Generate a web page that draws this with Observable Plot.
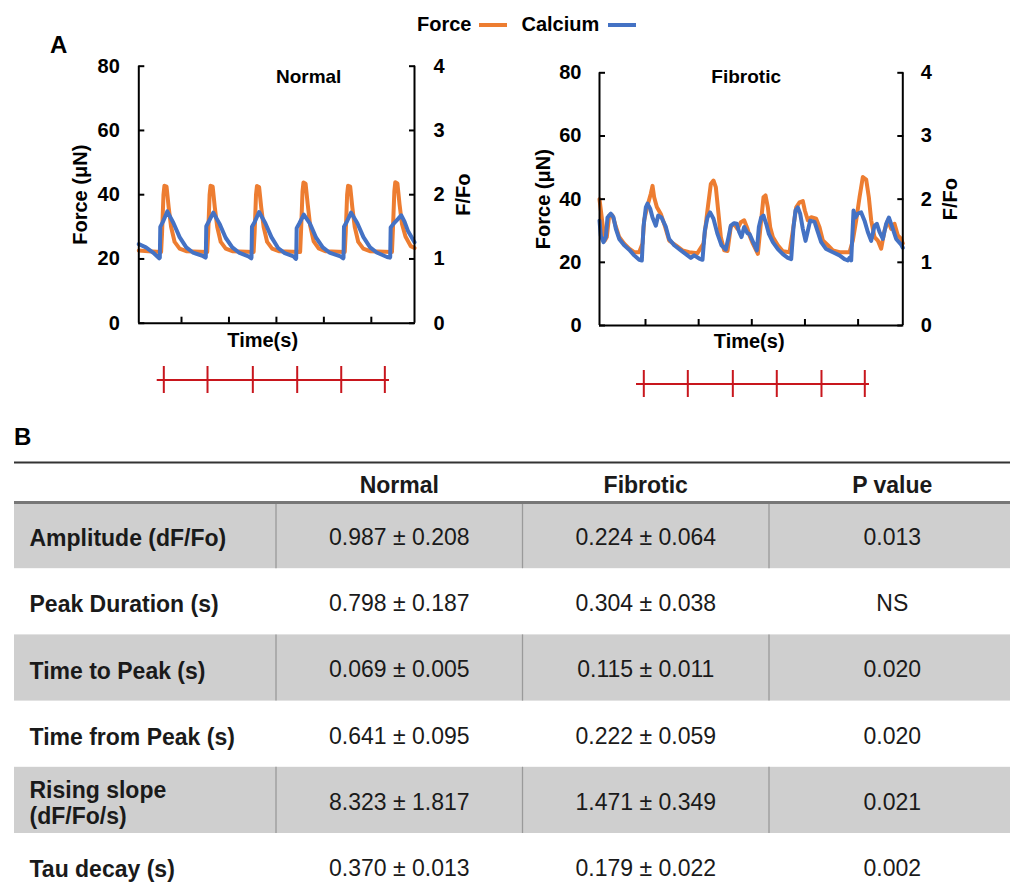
<!DOCTYPE html>
<html><head><meta charset="utf-8">
<script src="https://cdn.jsdelivr.net/npm/d3@7"></script>
<script src="https://cdn.jsdelivr.net/npm/@observablehq/plot@0.6"></script>
<style>
body{margin:0;background:#fff;font-family:"Liberation Sans",Arial,sans-serif;}
#root{position:relative;width:1010px;height:892px;overflow:hidden;background:#fff;}
.abs{position:absolute;}
.lbl{position:absolute;font-weight:bold;line-height:1;color:#000;white-space:nowrap;}
.sw{position:absolute;height:4px;width:28px;}
</style></head><body><div id="root"></div>
<script>
const FONT = '"Liberation Sans", Arial, sans-serif';
const ORANGE = "#ED7D31", BLUE = "#4472C4", RED = "#C8161D";

// ---- Panel A axes ----
const forceTicks = [0, 20, 40, 60, 80];
const ffoTicks = [0, 1, 2, 3, 4];
const timeTicks = [1, 2, 3, 4, 5];
const normalDomain = [0.1, 5.91];
const fibroticDomain = [0.1345, 5.841];

// ---- Normal traces: [time, force µN] and [time, F/Fo] ----
const normalForce = [
 [0.10,22.6],[0.30,22.4],[0.57,22.2],
 [0.59,28],[0.62,40],[0.64,42.8],[0.685,42.5],[0.73,36],[0.78,30],[0.855,25.3],[0.96,23.2],[1.10,22.4],
 [1.542,22.2],[1.562,28],[1.592,40],[1.612,42.8],[1.657,42.5],[1.702,36],[1.752,30],[1.827,25.3],[1.932,23.2],[2.072,22.4],
 [2.52,22.2],[2.54,28],[2.57,40],[2.59,42.7],[2.635,42.4],[2.68,36],[2.73,30],[2.805,25.3],[2.91,23.2],[3.05,22.4],
 [3.50,22.2],[3.52,29],[3.55,41],[3.57,43.8],[3.615,43.4],[3.66,37],[3.71,30.5],[3.785,25.5],[3.89,23.3],[4.03,22.4],
 [4.44,22.2],[4.46,28],[4.49,40],[4.51,42.8],[4.555,42.5],[4.60,36],[4.65,30],[4.725,25.3],[4.83,23.2],[4.97,22.4],
 [5.435,22.2],[5.455,29],[5.485,41],[5.505,43.9],[5.55,43.5],[5.595,37],[5.645,31],[5.72,27],[5.83,24],[5.91,23.4]
];
const normalCalcium = [
 [0.10,1.23],[0.25,1.18],[0.40,1.10],[0.53,1.01],
 [0.543,1.02],[0.553,1.50],[0.61,1.58],[0.70,1.74],[0.83,1.56],[0.96,1.34],[1.10,1.18],[1.24,1.10],[1.44,1.05],[1.505,1.02],
 [1.512,1.03],[1.522,1.51],[1.58,1.59],[1.67,1.72],[1.80,1.55],[1.93,1.33],[2.07,1.18],[2.21,1.10],[2.41,1.04],[2.47,1.01],
 [2.475,1.02],[2.485,1.50],[2.545,1.58],[2.635,1.73],[2.765,1.56],[2.895,1.34],[3.035,1.17],[3.175,1.09],[3.36,1.04],[3.41,1.00],
 [3.417,1.01],[3.427,1.48],[3.487,1.56],[3.577,1.69],[3.707,1.55],[3.837,1.33],[3.977,1.18],[4.117,1.10],[4.35,1.04],[4.407,1.01],
 [4.414,1.02],[4.424,1.50],[4.484,1.58],[4.574,1.72],[4.704,1.56],[4.834,1.34],[4.974,1.18],[5.114,1.10],[5.33,1.03],[5.39,1.02],
 [5.398,1.03],[5.408,1.49],[5.47,1.55],[5.56,1.62],[5.63,1.68],[5.70,1.58],[5.77,1.44],[5.91,1.26]
];

// ---- Fibrotic traces ----
const fibroticForce = [
 [0.1345,40],[0.191,32.2],[0.235,26.9],[0.272,28],[0.316,34.8],[0.379,34.8],[0.442,31.3],[0.505,28],[0.599,25.9],[0.693,24.3],
 [0.787,23.2],[0.881,23.2],[0.944,26],[0.975,33.3],[1.038,38],[1.100,41.7],[1.132,44.2],[1.163,40.6],[1.213,37.5],[1.288,35.3],
 [1.351,32.2],[1.445,26.9],[1.571,25.4],[1.696,23.8],[1.821,23.2],[1.978,22.9],[2.091,25.9],[2.166,36.5],[2.229,44.8],[2.279,45.9],
 [2.323,43.8],[2.367,36.5],[2.417,28],[2.480,23.8],[2.543,23.6],[2.605,31.3],[2.668,32.2],[2.731,30.6],[2.794,32.7],[2.856,33.3],
 [2.919,30.6],[2.957,28.5],[3.020,25.9],[3.082,23.8],[3.114,22.7],[3.176,33.3],[3.220,40.6],[3.258,41.2],[3.302,37.4],[3.346,31.1],
 [3.396,28],[3.490,25.4],[3.584,23.5],[3.710,23.2],[3.772,30],[3.835,37.4],[3.898,39],[3.960,39.4],[3.998,36.4],[4.055,33.3],
 [4.117,34.3],[4.211,33.8],[4.274,31.1],[4.337,26.9],[4.431,25.4],[4.525,23.8],[4.650,23.2],[4.838,23.2],[4.901,26.9],[4.964,33.3],
 [5.027,40.6],[5.089,47],[5.152,46.2],[5.202,40.6],[5.246,33.3],[5.309,28],[5.371,26.9],[5.434,24.3],[5.497,30],[5.560,33.3],
 [5.622,30.6],[5.685,32.2],[5.748,28.5],[5.810,27.4],[5.841,26]
];
const fibroticCalcium = [
 [0.1345,1.66],[0.159,1.42],[0.210,1.32],[0.254,1.40],[0.285,1.71],[0.348,1.77],[0.398,1.71],[0.442,1.53],[0.505,1.37],[0.599,1.27],
 [0.693,1.20],[0.787,1.11],[0.881,1.04],[0.931,1.03],[0.962,1.56],[1.006,1.87],[1.038,1.93],[1.088,1.85],[1.132,1.71],[1.194,1.58],
 [1.238,1.74],[1.301,1.71],[1.383,1.56],[1.445,1.37],[1.540,1.27],[1.665,1.19],[1.790,1.11],[1.853,1.07],[1.916,1.11],[2.010,1.06],
 [2.072,1.04],[2.116,1.50],[2.166,1.71],[2.216,1.79],[2.279,1.69],[2.354,1.45],[2.430,1.27],[2.511,1.20],[2.562,1.40],[2.605,1.58],
 [2.668,1.62],[2.718,1.61],[2.762,1.48],[2.806,1.40],[2.856,1.56],[2.919,1.46],[2.957,1.45],[3.051,1.27],[3.095,1.19],[3.133,1.56],
 [3.176,1.71],[3.220,1.74],[3.271,1.61],[3.321,1.45],[3.396,1.32],[3.490,1.21],[3.584,1.13],[3.678,1.07],[3.741,1.05],[3.785,1.56],
 [3.822,1.82],[3.866,1.87],[3.910,1.77],[3.960,1.53],[4.011,1.34],[4.055,1.50],[4.098,1.66],[4.180,1.64],[4.243,1.48],[4.305,1.32],
 [4.399,1.21],[4.525,1.16],[4.650,1.11],[4.744,1.05],[4.807,1.03],[4.838,1.07],[4.870,1.03],[4.914,1.82],[4.951,1.71],[4.995,1.77],
 [5.058,1.79],[5.121,1.66],[5.183,1.48],[5.246,1.34],[5.309,1.58],[5.353,1.61],[5.403,1.48],[5.466,1.37],[5.528,1.61],[5.579,1.71],
 [5.641,1.56],[5.716,1.37],[5.810,1.28],[5.841,1.23]
];

// ---- Stimulation markers ----
const normalStim = [0.627, 1.548, 2.503, 3.438, 4.366, 5.285];
const normalStimSpan = [0.488, 5.383];
const fibroticStim = [0.968, 1.796, 2.643, 3.470, 4.311, 5.126];
const fibroticStimSpan = [0.831, 5.214];

// ---- Panel B table ----
const tableHeaders = ["Normal", "Fibrotic", "P value"];
const rowLabels = ["Amplitude (dF/Fo)", "Peak Duration (s)", "Time to Peak (s)", "Time from Peak (s)", "Rising slope\n(dF/Fo/s)", "Tau decay (s)"];
const normalVals = ["0.987 ± 0.208", "0.798 ± 0.187", "0.069 ± 0.005", "0.641 ± 0.095", "8.323 ± 1.817", "0.370 ± 0.013"];
const fibroticVals = ["0.224 ± 0.064", "0.304 ± 0.038", "0.115 ± 0.011", "0.222 ± 0.059", "1.471 ± 0.349", "0.179 ± 0.022"];
const pValues = ["0.013", "NS", "0.020", "0.020", "0.021", "0.002"];
const shadedRows = [0, 2, 4];

const root = document.getElementById("root");
function place(node, left, top, width) {
  const d = document.createElement("div");
  d.className = "abs";
  d.style.left = left + "px"; d.style.top = top + "px";
  if (width) d.style.width = width + "px";
  d.appendChild(node); root.appendChild(d);
}
function label(text, left, top, size) {
  const d = document.createElement("div");
  d.className = "lbl"; d.textContent = text;
  d.style.left = left + "px"; d.style.top = top + "px"; d.style.fontSize = size + "px";
  root.appendChild(d);
}
function swatch(color, left, top) {
  const d = document.createElement("div");
  d.className = "sw"; d.style.background = color;
  d.style.left = left + "px"; d.style.top = top + "px";
  root.appendChild(d);
}

function tracePlot(o) {
  const txt = {text: d => d, textAnchor: "middle", lineAnchor: "middle"};
  return Plot.plot({
    width: o.width, height: 330,
    marginLeft: o.ml, marginRight: o.mr, marginTop: o.mt, marginBottom: o.mb,
    x: {domain: o.domain}, y: {domain: [0, 80]},
    style: {fontFamily: FONT, fontSize: "20px", fontWeight: "bold", color: "#000", background: "transparent", overflow: "visible"},
    marks: [
      Plot.line(o.force, {x: d => d[0], y: d => d[1], stroke: ORANGE, strokeWidth: 4, strokeLinejoin: "round"}),
      Plot.line(o.calcium, {x: d => d[0], y: d => d[1] * 20, stroke: BLUE, strokeWidth: 4, strokeLinejoin: "round"}),
      Plot.ruleX(o.domain, {x: d => d, stroke: "#000", strokeWidth: 2}),
      Plot.ruleY([0], {y: d => d, stroke: "#000", strokeWidth: 2}),
      Plot.axisY(forceTicks, {anchor: "left", tickSize: -6, tickPadding: o.pad + 6, strokeWidth: 2, label: null}),
      Plot.axisY(ffoTicks.map(v => v * 20), {anchor: "right", tickSize: -6, tickPadding: o.pad + 6, tickFormat: d => String(d / 20), strokeWidth: 2, label: null}),
      Plot.axisX(timeTicks, {anchor: "bottom", tickSize: -6, tickFormat: () => "", strokeWidth: 2, label: null}),
      Plot.text([o.title], {...txt, frameAnchor: "top", dx: o.titleDx, dy: o.titleDy, fontSize: 19}),
      Plot.text(["Time(s)"], {...txt, frameAnchor: "bottom", dx: o.timeDx, dy: o.timeDy}),
      Plot.text(["Force (μN)"], {...txt, frameAnchor: "left", rotate: -90, dx: o.forceDx}),
      Plot.text(["F/Fo"], {...txt, frameAnchor: "right", rotate: -90, dx: o.ffoDx})
    ]
  });
}
function stimPlot(o) {
  return Plot.plot({
    width: o.width, height: 27,
    marginLeft: o.ml, marginRight: o.mr, marginTop: 0, marginBottom: 0,
    x: {domain: o.domain, axis: null}, y: {domain: [-1, 1], axis: null},
    style: {background: "transparent", overflow: "visible"},
    marks: [
      Plot.ruleY([0], {y: d => d, x1: () => o.span[0], x2: () => o.span[1], stroke: RED, strokeWidth: 2}),
      Plot.tickX(o.stim, {x: d => d, stroke: RED, strokeWidth: 2})
    ]
  });
}

// Legend & panel letters
label("Force", 417, 14, 20); swatch(ORANGE, 479, 23);
label("Calcium", 521.5, 14, 20); swatch(BLUE, 608, 23);
label("A", 50, 33, 24);
label("B", 14, 425, 24);

// Panel A
place(tracePlot({width: 480, ml: 138.3, mr: 66, mt: 25.7, mb: 47.3, domain: normalDomain,
  force: normalForce, calcium: normalCalcium, title: "Normal", pad: 19,
  titleDx: 32, titleDy: 10.5, timeDx: -14, timeDy: 17.5, forceDx: -58, ffoDx: 49}), 0, 40, 480);
place(tracePlot({width: 530, ml: 119, mr: 107.7, mt: 32.3, mb: 45, domain: fibroticDomain,
  force: fibroticForce, calcium: fibroticCalcium, title: "Fibrotic", pad: 18,
  titleDx: -5, titleDy: 4.5, timeDx: -2, timeDy: 16.5, forceDx: -56, ffoDx: 48}), 480, 40, 530);
place(stimPlot({width: 480, ml: 138.3, mr: 66, domain: normalDomain, stim: normalStim, span: normalStimSpan}), 0, 366, 480);
place(stimPlot({width: 530, ml: 119, mr: 107.7, domain: fibroticDomain, stim: fibroticStim, span: fibroticStimSpan}), 480, 370, 530);

// Panel B table
const cells = rowLabels.flatMap((_, i) => [
  {row: i, col: 1, text: normalVals[i]},
  {row: i, col: 2, text: fibroticVals[i]},
  {row: i, col: 3, text: pValues[i]}
]);
const seps = shadedRows.flatMap(r => [1, 2, 3].map(c => ({row: r, col: c})));
const table = Plot.plot({
  width: 1010, height: 452,
  marginLeft: 14, marginRight: 0, marginTop: 62, marginBottom: 0,
  x: {domain: [0, tableHeaders.length + 1], range: [29, 1015], axis: null},
  y: {domain: [0, rowLabels.length], range: [62, 459.2], axis: null},
  style: {fontFamily: FONT, fontSize: "23px", color: "#1a1a1a", background: "transparent", overflow: "visible"},
  marks: [
    Plot.rect(shadedRows, {y1: d => d, y2: d => d + 1, fill: "#cfcfcf"}),
    Plot.ruleX(seps, {x: d => d.col, y1: d => d.row, y2: d => d.row + 1, stroke: "#9a9a9a", strokeWidth: 1.3}),
    Plot.ruleY([0], {y: d => d, stroke: "#777", strokeWidth: 3}),
    Plot.ruleY([0], {y: d => d, dy: -40, stroke: "#333", strokeWidth: 2}),
    Plot.text(tableHeaders, {x: (d, i) => i + 1.5, y: () => 0, dy: -17, text: d => d, fontWeight: "bold"}),
    Plot.text(rowLabels, {x: () => 0, y: (d, i) => i + 0.5, dy: 2, text: d => d, textAnchor: "start", fontWeight: "bold", lineHeight: 1.16}),
    Plot.text(cells, {x: d => d.col + 0.5, y: d => d.row + 0.5, dy: 2, text: d => d.text})
  ]
});
place(table, 0, 440, 1010);
</script></body></html>
